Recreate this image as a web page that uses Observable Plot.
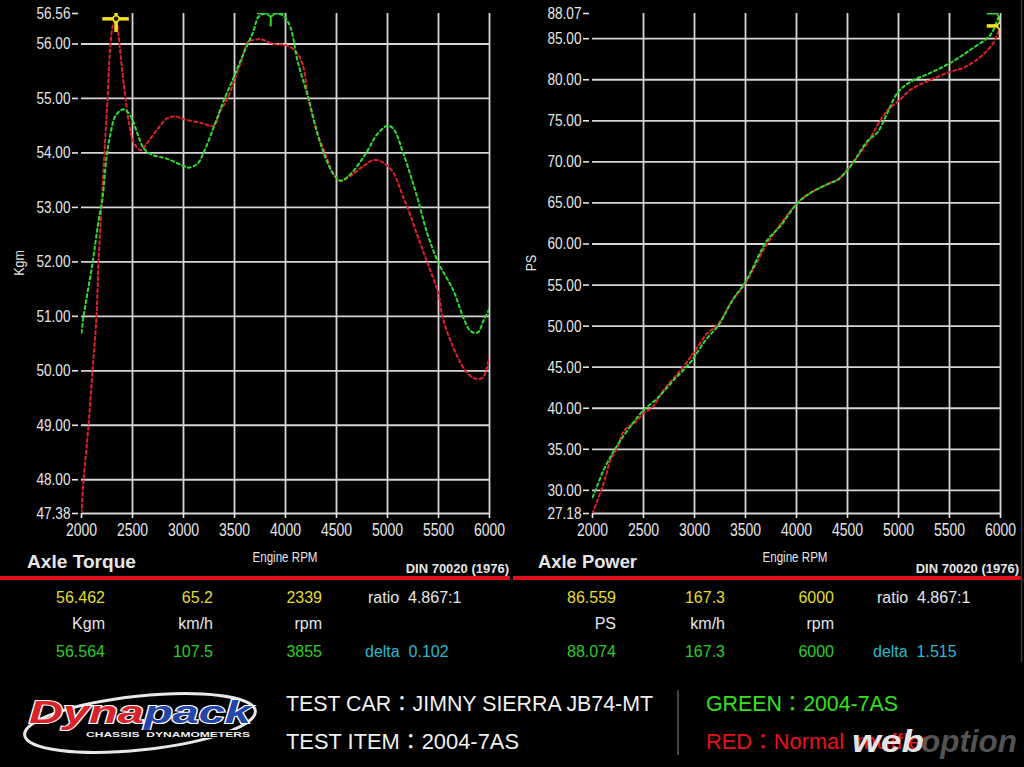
<!DOCTYPE html>
<html><head><meta charset="utf-8">
<script src="https://cdn.jsdelivr.net/npm/d3@7"></script>
<script src="https://cdn.jsdelivr.net/npm/@observablehq/plot@0.6"></script>
<style>
html,body{margin:0;padding:0;background:#000;width:1024px;height:767px;overflow:hidden;}
#page{position:relative;width:1024px;height:767px;background:#000;}
#left,#right{position:absolute;top:0;}
#left{left:0;} #right{left:510px;}
#overlay{position:absolute;left:0;top:0;}
</style></head>
<body><div id="page"><div id="left"></div><div id="right"></div>
<svg id="overlay" width="1024" height="767"></svg></div>
<script>
// ---------- data ----------
const rpmTicks = [2000, 2500, 3000, 3500, 4000, 4500, 5000, 5500, 6000];
const rpmGrid = [2500, 3000, 3500, 4000, 4500, 5000, 5500, 6000];
const torqueTicks = [47.38, 48, 49, 50, 51, 52, 53, 54, 55, 56, 56.56];
const torqueGrid = [48, 49, 50, 51, 52, 53, 54, 55, 56];
const powerTicks = [27.18, 30, 35, 40, 45, 50, 55, 60, 65, 70, 75, 80, 85, 88.07];
const powerGrid = [30, 35, 40, 45, 50, 55, 60, 65, 70, 75, 80, 85];

const torqueRedRpm = [2000,2020,2069,2108,2147,2167,2196,2225,2255,2284,2310,2339,2363,2400,2431,2470,2510,2578,2650,2750,2843,2922,3000,3176,3294,3363,3431,3559,3637,3686,3755,3882,4000,4098,4167,4225,4314,4392,4471,4539,4637,4765,4863,4961,5059,5157,5196,5290,5392,5500,5539,5647,5765,5843,5931,6000];
const torqueRedKgm = [47.38,48.0,49.0,50.0,51.0,52.0,53.0,54.0,55.0,56.0,56.35,56.46,56.15,55.5,55.0,54.5,54.2,54.05,54.2,54.45,54.64,54.67,54.62,54.55,54.5,54.77,55.0,55.65,56.05,56.07,56.09,56.0,55.98,55.87,55.63,55.0,54.35,53.98,53.61,53.49,53.58,53.76,53.87,53.82,53.63,53.17,53.0,52.5,51.98,51.41,50.99,50.42,50.0,49.87,49.87,50.27];
const torqueGreenRpm = [2000,2020,2108,2167,2206,2245,2284,2333,2412,2480,2549,2608,2676,2843,3000,3049,3137,3196,3294,3392,3490,3588,3686,3735,3800,3855,3920,3980,4049,4118,4225,4314,4392,4471,4539,4637,4784,4902,5000,5059,5157,5294,5392,5500,5647,5745,5814,5882,5941,6000];
const torqueGreenKgm = [50.70,51.0,51.98,52.75,53.17,53.91,54.35,54.68,54.8,54.68,54.35,54.09,53.98,53.89,53.76,53.73,53.8,54.0,54.46,54.95,55.38,55.82,56.24,56.5,56.56,56.564,56.56,56.52,56.3,55.69,55.0,54.35,53.91,53.61,53.49,53.61,53.98,54.35,54.5,54.44,53.98,53.17,52.51,51.98,51.47,50.97,50.73,50.70,50.92,51.14];

const powerRedRpm = [2000,2078,2127,2176,2245,2294,2343,2422,2500,2588,2696,2863,3010,3127,3225,3373,3500,3716,4010,4137,4333,4402,4500,4559,4700,4824,4900,5000,5118,5314,5510,5637,5804,5931,6000];
const powerRedPs = [27.18,29.76,31.6,33.66,35.24,36.95,37.68,38.29,39.39,40.12,42.2,44.63,47.07,49.15,50.12,53.17,55.24,60.12,65.0,66.22,67.44,67.8,69.02,70.0,72.4,75.1,76.4,77.4,78.78,80.0,80.98,81.46,82.8,84.5,86.56];
const powerGreenRpm = [2000,2029,2108,2196,2275,2402,2500,2637,2794,2961,3108,3235,3373,3500,3716,3843,4010,4137,4333,4402,4500,4559,4700,4794,4892,4990,5118,5314,5510,5706,5902,5980,6000];
const powerGreenPs = [29.15,30.0,32.44,34.51,36.1,38.29,39.76,41.22,43.41,45.61,48.29,50.12,53.17,55.4,60.5,62.2,65.0,66.22,67.44,67.8,69.02,70.0,72.6,73.6,75.98,78.41,79.76,80.85,82.07,83.66,85.49,87.6,88.07];

const cursorSeries = ["red", "green"];
const torqueCursorRpm = [2339, 3855];
const torqueCursorKgm = [56.462, 56.564];
const powerCursorRpm = [6000, 6000];
const powerCursorPs = [86.559, 88.074];

const torqueCursorRow = ["56.462", "65.2", "2339"];
const torqueUnitRow = ["Kgm", "km/h", "rpm"];
const torquePeakRow = ["56.564", "107.5", "3855"];
const torqueRatio = "4.867:1";
const torqueDelta = "0.102";
const powerCursorRow = ["86.559", "167.3", "6000"];
const powerUnitRow = ["PS", "km/h", "rpm"];
const powerPeakRow = ["88.074", "167.3", "6000"];
const powerRatio = "4.867:1";
const powerDelta = "1.515";

// ---------- styles ----------
const ARIAL = '"Liberation Sans",Arial,sans-serif';
const RED = "#e0202c", GREEN = "#2fdc2f", YELLOW = "#f2e01e", GRID = "#d6d6d6";
const NARROW_FACTOR = 0.8;

const rows = (xs, ys) => xs.map((x, i) => ({rpm: x, v: ys[i]}));

function squeeze(el, f) {
  const len = el.getComputedTextLength();
  if (len > 0) {
    el.setAttribute("textLength", (len * f).toFixed(2));
    el.setAttribute("lengthAdjust", "spacingAndGlyphs");
  }
}

function dyno({width, ml, mr, yDomain, yTicks, yGrid, red, green, cursors, hRpm, vVal}) {
  const dashed = {x: "rpm", y: "v", curve: "catmull-rom", strokeWidth: 2, strokeDasharray: "3,3", clip: true};
  const cur = cursors.map(c => ({...c, col: c.series === "red" ? YELLOW : GREEN, w: c.series === "red" ? 3.5 : 2}));
  return Plot.plot({
    width, height: 545, marginLeft: ml, marginRight: mr, marginTop: 13, marginBottom: 32,
    style: {background: "transparent", color: "#e6e6e6", fontFamily: ARIAL, fontSize: "17px", overflow: "visible"},
    x: {domain: [2000, 6000]},
    y: {domain: yDomain},
    marks: [
      Plot.gridX(rpmGrid, {stroke: GRID, strokeOpacity: 1, strokeWidth: 1.8}),
      Plot.gridY(yGrid, {stroke: GRID, strokeOpacity: 1, strokeWidth: 1.8}),
      Plot.ruleY([yDomain[0]], {stroke: GRID, strokeWidth: 1.8}),
      Plot.axisX(rpmTicks, {tickSize: 5, tickPadding: 5, tickFormat: d => String(d), fontSize: 17.5, strokeWidth: 1.6, label: null}),
      Plot.axisY(yTicks, {tickSize: 6, tickPadding: 2, dx: -3, tickFormat: d => d.toFixed(2), fontSize: 17, strokeWidth: 1.6, label: null}),
      Plot.line(red, {...dashed, stroke: RED}),
      Plot.line(green, {...dashed, stroke: GREEN}),
      Plot.ruleY(cur, {y: "v", x1: d => d.rpm - hRpm, x2: d => d.rpm + hRpm, stroke: "col", strokeWidth: "w", clip: true}),
      Plot.ruleX(cur, {x: "rpm", y1: d => d.v - vVal, y2: d => d.v + vVal, stroke: "col", strokeWidth: "w", clip: true}),
      Plot.dot(cur, {x: "rpm", y: "v", r: 3, stroke: "col", fill: "#222", strokeWidth: 1.5, clip: true})
    ]
  });
}

const tCur = cursorSeries.map((s, i) => ({series: s, rpm: torqueCursorRpm[i], v: torqueCursorKgm[i]}));
const pCur = cursorSeries.map((s, i) => ({series: s, rpm: powerCursorRpm[i], v: powerCursorPs[i]}));

const leftPlot = dyno({
  width: 510, ml: 81, mr: 21, yDomain: [47.38, 56.56], yTicks: torqueTicks, yGrid: torqueGrid,
  red: rows(torqueRedRpm, torqueRedKgm), green: rows(torqueGreenRpm, torqueGreenKgm),
  cursors: tCur, hRpm: 130, vVal: 0.25
});
const rightPlot = dyno({
  width: 514, ml: 82, mr: 24, yDomain: [27.18, 88.07], yTicks: powerTicks, yGrid: powerGrid,
  red: rows(powerRedRpm, powerRedPs), green: rows(powerGreenRpm, powerGreenPs),
  cursors: pCur, hRpm: 130, vVal: 1.6
});
document.getElementById("left").append(leftPlot);
document.getElementById("right").append(rightPlot);
for (const p of [leftPlot, rightPlot]) {
  p.querySelectorAll('g[aria-label$="tick label"] text').forEach(t => squeeze(t, NARROW_FACTOR));
}

// ---------- overlay texts ----------
const svg = d3.select("#overlay");
function txt(x, y, s, o = {}) {
  const t = svg.append("text").attr("x", x).attr("y", y).text(s)
    .attr("fill", o.fill || "#e6e6e6").attr("font-family", o.font || ARIAL)
    .attr("font-size", o.size || 16).attr("text-anchor", o.anchor || "start")
    .style("white-space", "pre");
  if (o.weight) t.attr("font-weight", o.weight);
  if (o.style) t.attr("font-style", o.style);
  if (o.transform) t.attr("transform", o.transform).attr("x", 0).attr("y", 0);
  if (o.len) t.attr("textLength", o.len).attr("lengthAdjust", "spacingAndGlyphs");
  else if (o.narrow) squeeze(t.node(), o.narrow);
  return t;
}

// axis titles
txt(0, 0, "Kgm", {size: 15.5, anchor: "middle", narrow: 0.8, transform: "translate(24,263) rotate(-90)"});
txt(0, 0, "PS", {size: 15.5, anchor: "middle", narrow: 0.8, transform: "translate(536,263) rotate(-90)"});
txt(285, 562, "Engine RPM", {size: 15, anchor: "middle", len: 65});
txt(795, 562, "Engine RPM", {size: 15, anchor: "middle", len: 65});
txt(27, 568, "Axle Torque", {size: 18, weight: "bold", len: 109});
txt(538, 568, "Axle Power", {size: 18, weight: "bold", len: 99});
txt(509, 573, "DIN 70020 (1976)", {size: 13, weight: "bold", anchor: "end"});
txt(1019, 573, "DIN 70020 (1976)", {size: 13, weight: "bold", anchor: "end"});

// separators
svg.append("rect").attr("x", 0).attr("y", 576).attr("width", 510).attr("height", 4).attr("fill", "#e2101c");
svg.append("rect").attr("x", 513).attr("y", 576).attr("width", 508).attr("height", 4).attr("fill", "#e2101c");
svg.append("line").attr("x1", 1021.5).attr("x2", 1021.5).attr("y1", 0).attr("y2", 662).attr("stroke", "#3a3a3a").attr("stroke-width", 1.5);

// readouts
const leftCols = [105, 213, 322], rightCols = [616, 725, 834];
function readout(cols, cursorRow, unitRow, peakRow, ratio, delta, rx, dxl) {
  cursorRow.forEach((s, i) => txt(cols[i], 603, s, {fill: "#e2dc2a", anchor: "end"}));
  unitRow.forEach((s, i) => txt(cols[i], 629, s, {fill: "#e6e6e6", anchor: "end"}));
  peakRow.forEach((s, i) => txt(cols[i], 657, s, {fill: "#2ccc2c", anchor: "end"}));
  txt(rx, 603, "ratio  " + ratio, {fill: "#e6e6e6"});
  txt(dxl, 657, "delta  " + delta, {fill: "#2ab8d0"});
}
readout(leftCols, torqueCursorRow, torqueUnitRow, torquePeakRow, torqueRatio, torqueDelta, 368, 365);
readout(rightCols, powerCursorRow, powerUnitRow, powerPeakRow, powerRatio, powerDelta, 877, 873);

// bottom banner
const CJK = '"Liberation Sans","Noto Sans CJK JP",sans-serif';
txt(286, 711, "TEST CAR：JIMNY SIERRA JB74-MT", {font: CJK, size: 22, len: 367, fill: "#f0f0f0"});
txt(286, 749, "TEST ITEM：2004-7AS", {font: CJK, size: 22, len: 233, fill: "#f0f0f0"});
svg.append("line").attr("x1", 678).attr("x2", 678).attr("y1", 690).attr("y2", 755).attr("stroke", "#888").attr("stroke-width", 1);
txt(706, 711, "GREEN：2004-7AS", {font: CJK, size: 22, len: 192, fill: "#36e01e"});
txt(706, 749, "RED：Normal", {font: CJK, size: 22, len: 138, fill: "#e8101a"});
txt(856, 749, "muffler", {font: CJK, size: 22, len: 74, fill: "#e8101a"});
// watermark
txt(852, 752, "web", {size: 31, weight: "bold", style: "italic", len: 72, fill: "#e4e4e4"});
txt(921, 752, "option", {size: 31, weight: "bold", style: "italic", len: 96, fill: "rgba(95,95,95,0.88)"});

// logo
svg.append("ellipse").attr("cx", 140).attr("cy", 723).attr("rx", 116).attr("ry", 27)
  .attr("transform", "rotate(-6 140 723)").attr("fill", "none").attr("stroke", "#e8e8e8").attr("stroke-width", 3);
const logo = svg.append("text").attr("x", 29).attr("y", 723).attr("font-family", ARIAL)
  .attr("font-size", 31).attr("font-weight", "bold").attr("font-style", "italic")
  .attr("textLength", 222).attr("lengthAdjust", "spacingAndGlyphs")
  .attr("stroke", "#fff").attr("stroke-width", 2).attr("paint-order", "stroke");
logo.append("tspan").attr("fill", "#d8232a").text("Dyna");
logo.append("tspan").attr("fill", "#2446a8").text("pack");
svg.append("rect").attr("x", 82).attr("y", 730).attr("width", 172).attr("height", 8).attr("fill", "#000");
txt(86, 737, "CHASSIS  DYNAMOMETERS", {size: 7.5, weight: "bold", len: 164, fill: "#f0f0f0"});
</script></body></html>
